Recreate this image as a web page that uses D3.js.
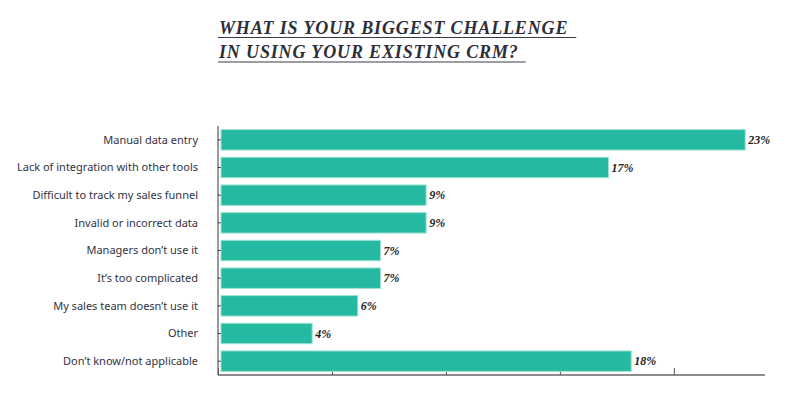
<!DOCTYPE html>
<html>
<head>
<meta charset="utf-8">
<script src="https://d3js.org/d3.v7.min.js"></script>
<style>
  body { margin: 0; background: #fff; }
  svg { display: block; }
</style>
</head>
<body>
<div id="chart"></div>
<script>
// survey answers, top to bottom
const categories = [
  "Manual data entry",
  "Lack of integration with other tools",
  "Difficult to track my sales funnel",
  "Invalid or incorrect data",
  "Managers don’t use it",
  "It’s too complicated",
  "My sales team doesn’t use it",
  "Other",
  "Don’t know/not applicable"
];
const values = [23, 17, 9, 9, 7, 7, 6, 4, 18];
const xTicks = [0, 5, 10, 15, 20];
const titleLines = ["WHAT IS YOUR BIGGEST CHALLENGE", "IN USING YOUR EXISTING CRM?"];

const width = 800, height = 396;
const margin = { top: 126, right: 35, bottom: 21, left: 218 };

const svg = d3.select("#chart").append("svg")
  .attr("width", width)
  .attr("height", height);

const x = d3.scaleLinear()
  .domain([0, 24])
  .range([margin.left, width - margin.right]);

const y = d3.scaleBand()
  .domain(categories)
  .range([margin.top, height - margin.bottom])
  .paddingInner(0.26)
  .paddingOuter(0.13);

// title, underlined
const title = svg.append("g");
titleLines.forEach((t, i) => {
  const tx = title.append("text")
    .attr("x", 219)
    .attr("y", 34 + i * 24)
    .style("font-family", "'Liberation Serif', 'Times New Roman', serif")
    .style("font-weight", "bold")
    .style("font-style", "italic")
    .style("font-size", "18px")
    .style("letter-spacing", "0.85px")
    .attr("fill", "#2e2e3a")
    .text(t);
  const len = tx.node().getComputedTextLength();
  title.append("line")
    .attr("x1", 218).attr("x2", 219 + len + (i === 0 ? 8 : 7))
    .attr("y1", 37.5 + i * 24.5).attr("y2", 37.5 + i * 24.5)
    .attr("stroke", "#3a3a46")
    .attr("stroke-width", 1.2);
});

// axes: ticks point inward, bars drawn over them
const gx = svg.append("g")
  .attr("transform", `translate(0,${height - margin.bottom})`)
  .call(d3.axisBottom(x).tickValues(xTicks).tickSize(-7).tickFormat(""));
gx.select(".domain").attr("d", `M${x(0)},0H${x.range()[1]}`);
gx.selectAll("line").attr("stroke", "#555");
gx.select(".domain").attr("stroke", "#666").attr("stroke-width", 1.3);

const gy = svg.append("g")
  .attr("transform", `translate(${x(0)},0)`)
  .call(d3.axisLeft(y).tickSize(-4).tickFormat(""));
gy.select(".domain").attr("d", `M0,${margin.top}V${height - margin.bottom}`)
  .attr("stroke", "#666").attr("stroke-width", 1.3);
gy.selectAll("line").attr("stroke", "#333");

// category labels
svg.append("g")
  .selectAll("text")
  .data(categories)
  .join("text")
  .attr("x", 198)
  .attr("y", d => y(d) + y.bandwidth() / 2)
  .attr("dy", "0.35em")
  .attr("text-anchor", "end")
  .style("font-family", "'Noto Sans', sans-serif")
  .style("font-size", "11px")
  .attr("fill", "#33333f")
  .text(d => d);

// bars
svg.append("g")
  .selectAll("rect")
  .data(values)
  .join("rect")
  .attr("x", x(0) + 3)
  .attr("y", (d, i) => y(categories[i]))
  .attr("width", d => x(d) - x(0))
  .attr("height", y.bandwidth())
  .attr("fill", "#25b9a1")
  .attr("stroke", "#9fe3d4")
  .attr("stroke-width", 1);

// value labels
svg.append("g")
  .selectAll("text")
  .data(values)
  .join("text")
  .attr("x", d => x(d) + 6)
  .attr("y", (d, i) => y(categories[i]) + y.bandwidth() / 2)
  .attr("dy", "0.35em")
  .style("font-family", "'Liberation Serif', 'Times New Roman', serif")
  .style("font-weight", "bold")
  .style("font-style", "italic")
  .style("font-size", "12px")
  .attr("fill", "#222")
  .text(d => d + "%");
</script>
</body>
</html>
